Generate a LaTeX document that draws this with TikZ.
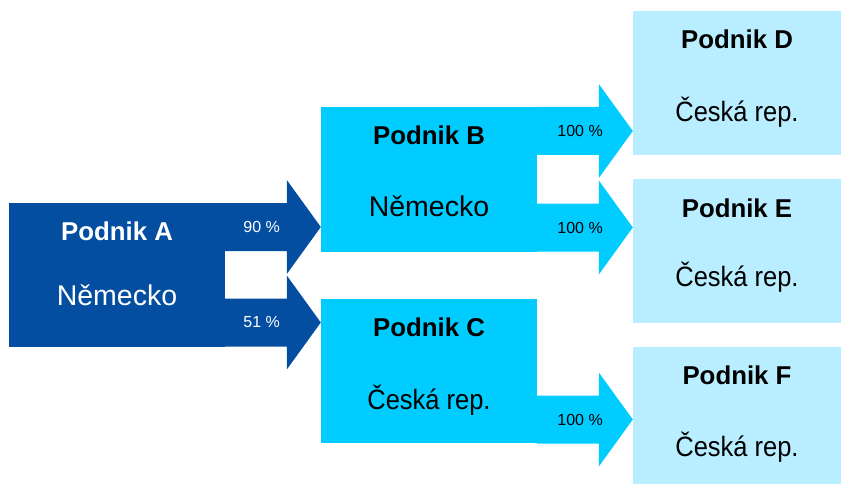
\documentclass[tikz,border=0pt]{standalone}
\usepackage{fontspec}
\setmainfont{Liberation Sans}
\newfontfamily\condfont[FakeStretch=0.91]{Liberation Sans}
\usetikzlibrary{calc}
\definecolor{darkblue}{HTML}{034EA0}
\definecolor{midblue}{HTML}{00CCFF}
\definecolor{paleblue}{HTML}{B8EEFF}
\tikzset{
  firm/.style={inner sep=0pt, minimum width=216pt, minimum height=144pt},
  firmname/.style={font=\fontsize{25.8}{30}\selectfont\bfseries},
  country/.style={font=\fontsize{28.5}{32}\selectfont},
  czech/.style={font=\condfont\fontsize{28}{32}\selectfont},
  share/.style={font=\fontsize{16}{19}\selectfont, anchor=west, inner sep=0pt},
}

\begin{document}
\begin{tikzpicture}[x=1pt,y=-1pt]

  % block arrow: source, target, axis y, colour
  \newcommand\Arr[4]{%
    \coordinate (ay) at (0,#3);
    \path (#1.east |- ay) coordinate (s) (#2.west |- ay) coordinate (t);
    \fill[#4] ($(s)+(0,-24)$) -- ($(t)+(-34,-24)$) -- ($(t)+(-34,-47)$) -- (t)
      -- ($(t)+(-34,47)$) -- ($(t)+(-34,24)$) -- ($(s)+(0,24)$) -- cycle;
  }

  \useasboundingbox (0,0) rectangle (841,484);

  % firms
  \node[firm, fill=darkblue] (A) at (117,275) {};
  \node[firm, fill=midblue, minimum height=145pt] (B) at (429,179.5) {};
  \node[firm, fill=midblue] (C) at (429,371) {};
  \node[firm, fill=paleblue, minimum width=208pt] (D) at (737,83) {};
  \node[firm, fill=paleblue, minimum width=208pt] (E) at (737,251) {};
  \node[firm, fill=paleblue, minimum width=208pt, minimum height=137pt] (F) at (737,415.5) {};

  \node[firmname, text=white] (An) at ($(A.north)+(0,28)$) {Podnik A};
  \node[country, text=white] (Ac) at ($(A.north)+(0,92)$) {Německo};
  \node[firmname] (Bn) at ($(B.north)+(0,28)$) {Podnik B};
  \node[country] (Bc) at ($(B.north)+(0,99)$) {Německo};
  \node[firmname] (Cn) at ($(C.north)+(0,28)$) {Podnik C};
  \node[czech] (Cc) at ($(C.north)+(0,101)$) {Česká rep.};
  \node[firmname] (Dn) at ($(D.north)+(0,28)$) {Podnik D};
  \node[czech] (Dc) at ($(D.north)+(0,101)$) {Česká rep.};
  \node[firmname] (En) at ($(E.north)+(0,29)$) {Podnik E};
  \node[czech] (Ec) at ($(E.north)+(0,98)$) {Česká rep.};
  \node[firmname] (Fn) at ($(F.north)+(0,28)$) {Podnik F};
  \node[czech] (Fc) at ($(F.north)+(0,100)$) {Česká rep.};

  % shares
  \Arr{A}{B}{227}{darkblue}
  \node[share, text=white] (sAB) at ($(s)+(18,0)$) {90 \%};
  \Arr{A}{C}{322.5}{darkblue}
  \node[share, text=white] (sAC) at ($(s)+(18,0)$) {51 \%};
  \Arr{B}{D}{131}{midblue}
  \node[share] (sBD) at ($(s)+(20,0)$) {100 \%};
  \Arr{B}{E}{227.5}{midblue}
  \node[share] (sBE) at ($(s)+(20,0)$) {100 \%};
  \Arr{C}{F}{419.5}{midblue}
  \node[share] (sCF) at ($(s)+(20,0)$) {100 \%};

\end{tikzpicture}
\end{document}
